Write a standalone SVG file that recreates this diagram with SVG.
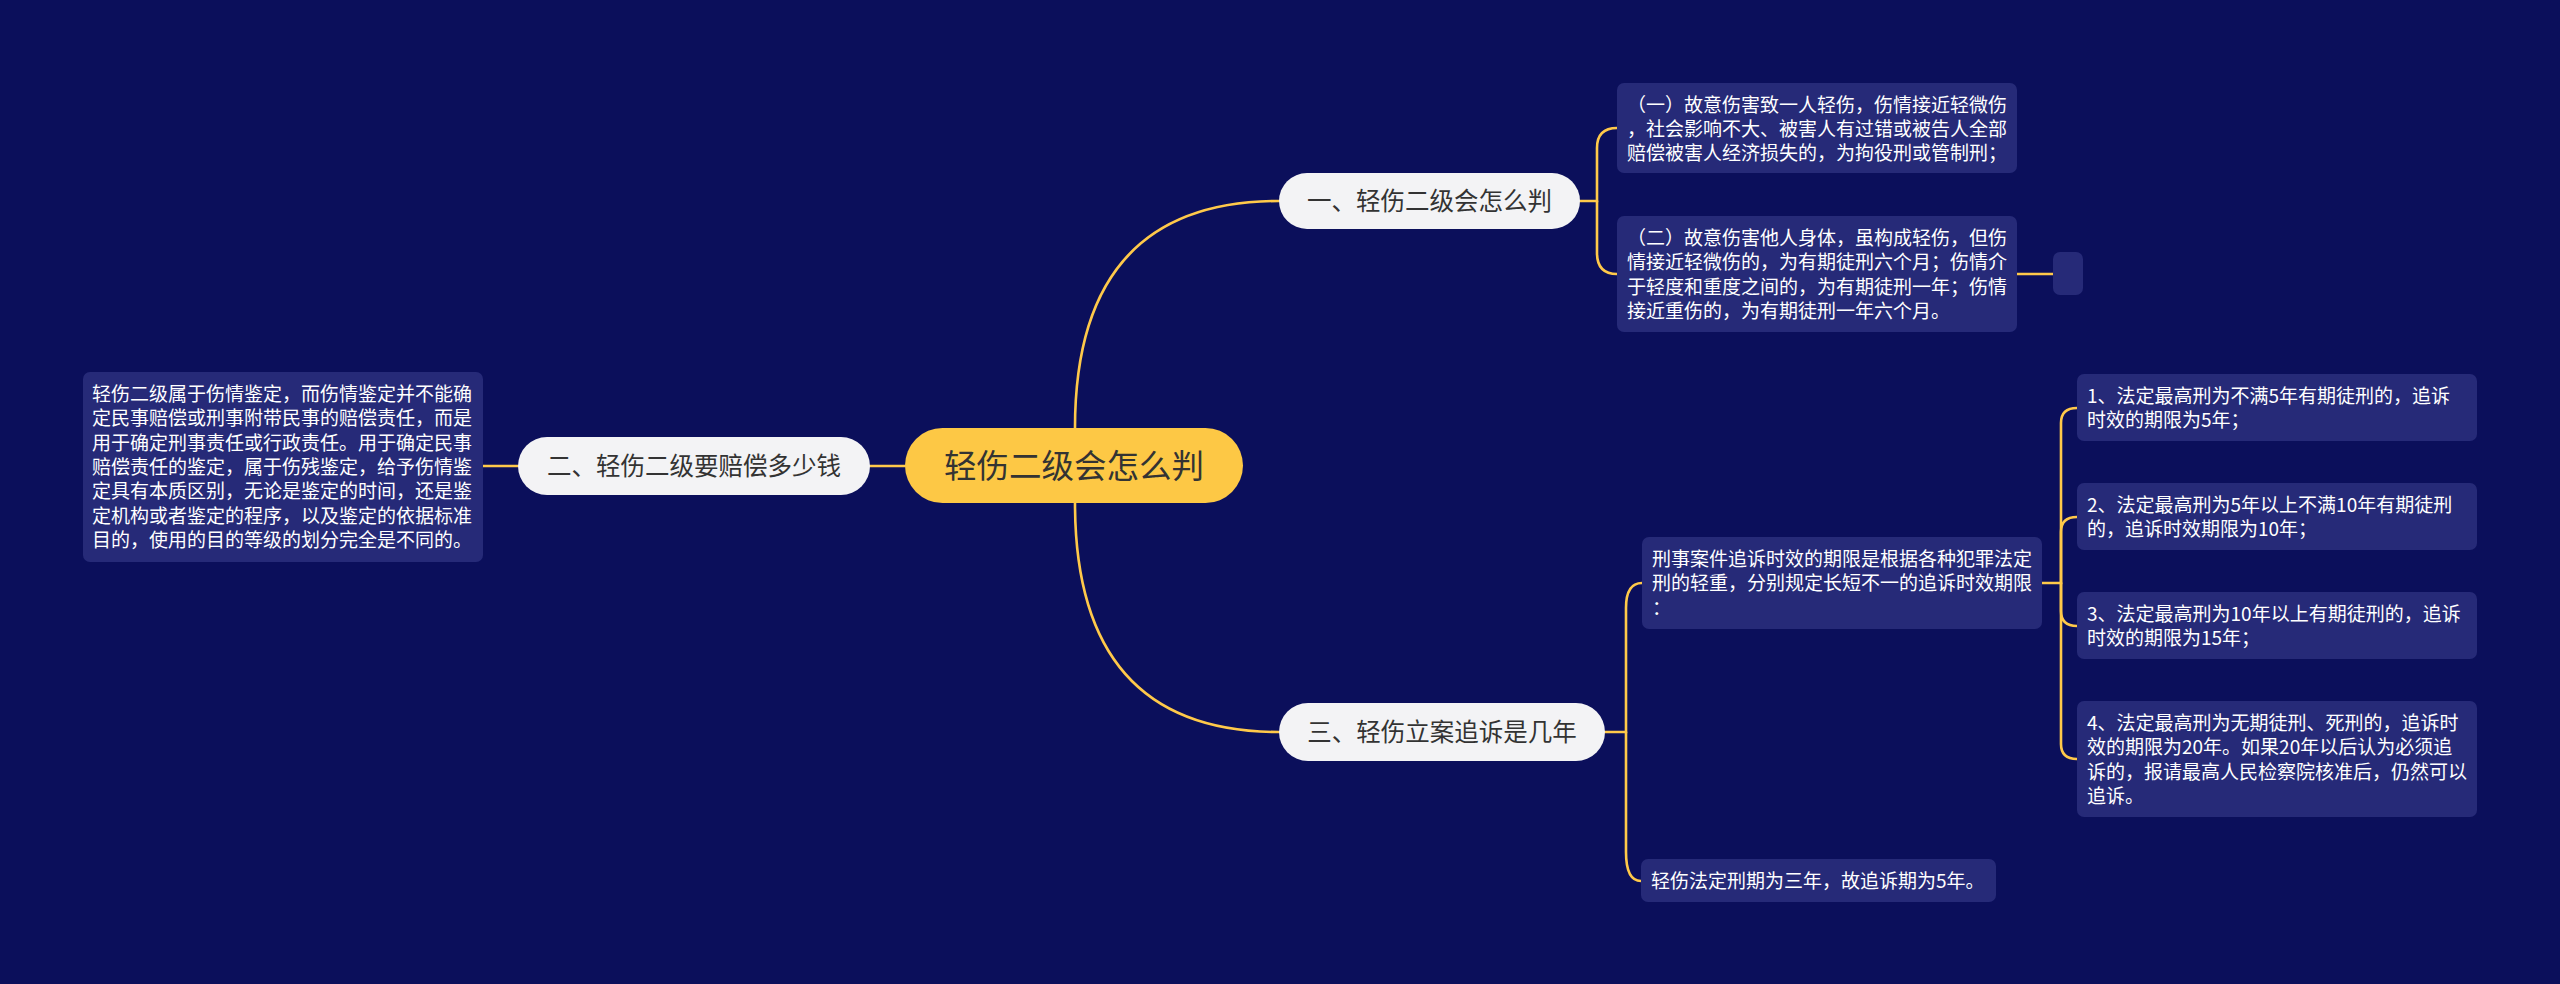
<svg xmlns="http://www.w3.org/2000/svg" width="2560" height="984" viewBox="0 0 2560 984">
<style>
.bg{fill:#0b0f5b}
.box{fill:#262a78}
.pill{fill:#f3f3f5}
.root{fill:#fdc845}
.bt{font-family:"Noto Sans CJK SC","Noto Sans",sans-serif;font-size:19px;fill:#ffffff}
.pt{font-family:"Noto Sans CJK SC","Noto Sans",sans-serif;font-size:24.5px;fill:#333333;text-anchor:middle}
.rt{font-family:"Noto Sans CJK SC","Noto Sans",sans-serif;font-size:32.5px;fill:#333333;text-anchor:middle}
.ln{fill:none;stroke:#ffc94a;stroke-width:2.6;stroke-linecap:round}
</style>
<rect class="bg" x="0" y="0" width="2560" height="984"/>
<g id="connectors">
<path class="ln" d="M905 466 H870"/>
<path class="ln" d="M518 466 H483"/>
<path class="ln" d="M1075 428 Q1075 201 1279 201"/>
<path class="ln" d="M1075 503 Q1075 732 1279 732"/>
<path class="ln" d="M1580 201 H1597 V148 Q1597 128 1617 128"/>
<path class="ln" d="M1597 201 V253 Q1597 274 1617 274"/>
<path class="ln" d="M2017 274 H2053"/>
<path class="ln" d="M1605 732 H1626 V608 Q1626 583 1642 583"/>
<path class="ln" d="M1626 732 V852 Q1626 881 1641 881"/>
<path class="ln" d="M2042 583 H2061 V423 Q2061 408 2077 408"/>
<path class="ln" d="M2061 583 V532 Q2061 517 2077 517"/>
<path class="ln" d="M2061 583 V611 Q2061 626 2077 626"/>
<path class="ln" d="M2061 583 V744 Q2061 759 2077 759"/>
</g>
<g id="root">
<rect class="root" x="905" y="428" width="338" height="75" rx="37.5"/>
<text class="rt" x="1074" y="478">轻伤二级会怎么判</text>
</g>
<g id="node1">
<rect class="pill" x="1279" y="173" width="301" height="56" rx="28"/>
<text class="pt" x="1429.5" y="210">一、轻伤二级会怎么判</text>
</g>
<g id="node2">
<rect class="pill" x="518" y="437" width="352" height="58" rx="29"/>
<text class="pt" x="694" y="475">二、轻伤二级要赔偿多少钱</text>
</g>
<g id="node3">
<rect class="pill" x="1279" y="703" width="326" height="58" rx="29"/>
<text class="pt" x="1442" y="741">三、轻伤立案追诉是几年</text>
</g>
<g id="leaf-left">
<rect class="box" x="83" y="372" width="400" height="190" rx="7"/>
<text class="bt" x="92" y="401"><tspan x="92">轻伤二级属于伤情鉴定，而伤情鉴定并不能确</tspan><tspan x="92" dy="24.3">定民事赔偿或刑事附带民事的赔偿责任，而是</tspan><tspan x="92" dy="24.3">用于确定刑事责任或行政责任。用于确定民事</tspan><tspan x="92" dy="24.3">赔偿责任的鉴定，属于伤残鉴定，给予伤情鉴</tspan><tspan x="92" dy="24.3">定具有本质区别，无论是鉴定的时间，还是鉴</tspan><tspan x="92" dy="24.3">定机构或者鉴定的程序，以及鉴定的依据标准</tspan><tspan x="92" dy="24.3">目的，使用的目的等级的划分完全是不同的。</tspan></text>
</g>
<g id="leaf-1a">
<rect class="box" x="1617" y="83" width="400" height="90" rx="7"/>
<text class="bt" x="1627" y="112"><tspan x="1627">（一）故意伤害致一人轻伤，伤情接近轻微伤</tspan><tspan x="1627" dy="24">，社会影响不大、被害人有过错或被告人全部</tspan><tspan x="1627" dy="24">赔偿被害人经济损失的，为拘役刑或管制刑；</tspan></text>
</g>
<g id="leaf-1b">
<rect class="box" x="1617" y="216" width="400" height="116" rx="7"/>
<text class="bt" x="1627" y="245"><tspan x="1627">（二）故意伤害他人身体，虽构成轻伤，但伤</tspan><tspan x="1627" dy="24.3">情接近轻微伤的，为有期徒刑六个月；伤情介</tspan><tspan x="1627" dy="24.3">于轻度和重度之间的，为有期徒刑一年；伤情</tspan><tspan x="1627" dy="24.3">接近重伤的，为有期徒刑一年六个月。</tspan></text>
</g>
<g id="leaf-1b-empty">
<rect class="box" x="2053" y="252" width="30" height="43" rx="7"/>
</g>
<g id="leaf-3a">
<rect class="box" x="1642" y="537" width="400" height="92" rx="7"/>
<text class="bt" x="1652" y="566"><tspan x="1652">刑事案件追诉时效的期限是根据各种犯罪法定</tspan><tspan x="1652" dy="24.3">刑的轻重，分别规定长短不一的追诉时效期限</tspan><tspan x="1652" dy="24.3">：</tspan></text>
</g>
<g id="leaf-3a-1">
<rect class="box" x="2077" y="374" width="400" height="67" rx="7"/>
<text class="bt" x="2087" y="403"><tspan x="2087">1、法定最高刑为不满5年有期徒刑的，追诉</tspan><tspan x="2087" dy="24">时效的期限为5年；</tspan></text>
</g>
<g id="leaf-3a-2">
<rect class="box" x="2077" y="483" width="400" height="67" rx="7"/>
<text class="bt" x="2087" y="512"><tspan x="2087">2、法定最高刑为5年以上不满10年有期徒刑</tspan><tspan x="2087" dy="24">的，追诉时效期限为10年；</tspan></text>
</g>
<g id="leaf-3a-3">
<rect class="box" x="2077" y="592" width="400" height="67" rx="7"/>
<text class="bt" x="2087" y="621"><tspan x="2087">3、法定最高刑为10年以上有期徒刑的，追诉</tspan><tspan x="2087" dy="24">时效的期限为15年；</tspan></text>
</g>
<g id="leaf-3a-4">
<rect class="box" x="2077" y="701" width="400" height="116" rx="7"/>
<text class="bt" x="2087" y="730"><tspan x="2087">4、法定最高刑为无期徒刑、死刑的，追诉时</tspan><tspan x="2087" dy="24.3">效的期限为20年。如果20年以后认为必须追</tspan><tspan x="2087" dy="24.3">诉的，报请最高人民检察院核准后，仍然可以</tspan><tspan x="2087" dy="24.3">追诉。</tspan></text>
</g>
<g id="leaf-3b">
<rect class="box" x="1641" y="859" width="355" height="43" rx="7"/>
<text class="bt" x="1651" y="888">轻伤法定刑期为三年，故追诉期为5年。</text>
</g>
</svg>
